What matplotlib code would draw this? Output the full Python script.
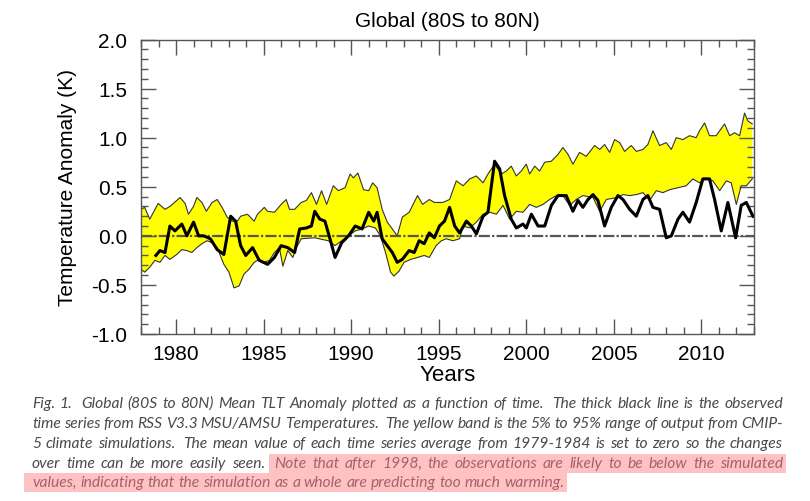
import numpy as np
import matplotlib.pyplot as plt
from matplotlib.patches import Rectangle
from matplotlib.ticker import MultipleLocator

plt.rcParams['font.family'] = ['Liberation Sans', 'DejaVu Sans']

# upper edge of the 5-95% model band
up_years = [1978.0, 1978.21, 1978.5, 1978.98, 1979.37, 1979.65, 1980.04, 1980.23, 1980.52, 1980.71,
            1981.0, 1981.19, 1981.48, 1981.73, 1982.06, 1982.35, 1982.63, 1982.92, 1983.21, 1983.5,
            1983.69, 1984.08, 1984.46, 1984.65, 1985.04, 1985.23, 1985.62, 1986.0, 1986.29, 1986.48,
            1986.77, 1987.15, 1987.44, 1987.73, 1988.02, 1988.31, 1988.6, 1988.98, 1989.27, 1989.65,
            1989.94, 1990.13, 1990.38, 1990.71, 1991.0, 1991.23, 1991.48, 1991.77, 1992.06, 1992.35,
            1992.63, 1992.92, 1993.31, 1993.79, 1994.08, 1994.46, 1994.75, 1995.23, 1995.62, 1996.0,
            1996.39, 1996.77, 1997.15, 1997.53, 1997.81, 1998.19, 1998.57, 1998.86, 1999.14, 1999.43,
            1999.71, 2000.0, 2000.19, 2000.48, 2000.76, 2001.05, 2001.43, 2001.81, 2002.09, 2002.38,
            2002.66, 2003.04, 2003.42, 2003.9, 2004.19, 2004.47, 2004.76, 2005.04, 2005.33, 2005.61,
            2005.99, 2006.28, 2006.66, 2006.94, 2007.23, 2007.61, 2007.99, 2008.28, 2008.56, 2008.94,
            2009.32, 2009.7, 2009.89, 2010.18, 2010.46, 2010.84, 2011.04, 2011.32, 2011.61, 2011.89,
            2012.18, 2012.46, 2012.65, 2012.9]
up_vals = [0.27, 0.29, 0.17, 0.33, 0.27, 0.30, 0.36, 0.39, 0.33, 0.22,
           0.30, 0.39, 0.34, 0.25, 0.34, 0.37, 0.29, 0.19, 0.15, 0.15,
           0.20, 0.22, 0.15, 0.22, 0.29, 0.25, 0.24, 0.32, 0.37, 0.27,
           0.27, 0.34, 0.36, 0.44, 0.32, 0.46, 0.32, 0.51, 0.46, 0.49,
           0.63, 0.59, 0.64, 0.47, 0.46, 0.54, 0.49, 0.27, 0.14, 0.07,
           0.00, 0.19, 0.24, 0.41, 0.32, 0.37, 0.34, 0.34, 0.37, 0.56,
           0.51, 0.58, 0.61, 0.54, 0.63, 0.73, 0.63, 0.66, 0.71, 0.61,
           0.66, 0.73, 0.63, 0.71, 0.66, 0.75, 0.76, 0.83, 0.90, 0.83,
           0.73, 0.85, 0.81, 0.92, 0.88, 0.93, 0.85, 0.98, 0.95, 0.86,
           0.92, 0.86, 0.88, 0.93, 1.07, 0.92, 0.95, 0.88, 1.00, 0.98,
           1.02, 1.00, 1.07, 1.15, 1.02, 1.02, 1.07, 1.14, 1.02, 1.05,
           1.02, 1.25, 1.17, 1.14]

# lower edge of the band
low_years = [1978.0, 1978.21, 1978.5, 1978.79, 1979.08, 1979.37, 1979.65, 1980.04, 1980.33, 1980.62,
             1980.9, 1981.19, 1981.48, 1981.77, 1982.06, 1982.35, 1982.73, 1983.02, 1983.31, 1983.6,
             1983.88, 1984.17, 1984.46, 1984.75, 1985.04, 1985.33, 1985.62, 1985.9, 1986.1, 1986.38,
             1986.67, 1986.87, 1987.15, 1987.92, 1988.69, 1989.08, 1989.46, 1989.85, 1990.23, 1990.62,
             1991.0, 1991.38, 1991.67, 1991.96, 1992.25, 1992.44, 1992.73, 1993.02, 1993.4, 1993.79,
             1994.17, 1994.46, 1994.85, 1995.15, 1995.43, 1995.81, 1996.19, 1996.39, 1996.77, 1997.15,
             1997.53, 1997.91, 1998.29, 1998.67, 1999.05, 1999.43, 1999.81, 2000.19, 2000.57, 2000.95,
             2001.33, 2001.71, 2002.09, 2002.47, 2002.85, 2003.23, 2003.81, 2004.19, 2004.57, 2005.14,
             2005.52, 2005.9, 2006.28, 2006.66, 2007.04, 2007.42, 2007.8, 2008.18, 2008.66, 2009.13,
             2009.51, 2009.89, 2010.27, 2010.65, 2011.04, 2011.42, 2011.7, 2011.99, 2012.27, 2012.56,
             2012.9]
low_vals = [-0.34, -0.37, -0.32, -0.25, -0.27, -0.20, -0.24, -0.19, -0.14, -0.15,
            -0.17, -0.12, -0.08, -0.05, -0.07, -0.12, -0.29, -0.37, -0.53, -0.51,
            -0.39, -0.34, -0.27, -0.24, -0.27, -0.25, -0.17, -0.12, -0.31, -0.15,
            -0.22, -0.12, -0.03, -0.02, -0.05, -0.10, -0.05, 0.00, 0.05, 0.07,
            0.10, 0.08, 0.00, -0.17, -0.37, -0.41, -0.36, -0.27, -0.24, -0.22,
            -0.20, -0.22, -0.10, -0.05, -0.03, -0.05, -0.03, 0.10, 0.08, 0.14,
            0.22, 0.24, 0.22, 0.31, 0.17, 0.25, 0.24, 0.32, 0.29, 0.32,
            0.37, 0.41, 0.41, 0.31, 0.37, 0.41, 0.39, 0.25, 0.37, 0.39,
            0.42, 0.41, 0.42, 0.44, 0.36, 0.46, 0.44, 0.47, 0.49, 0.51,
            0.58, 0.54, 0.59, 0.56, 0.46, 0.56, 0.54, 0.32, 0.51, 0.51,
            0.58]

# RSS observations (thick black line)
obs_years = [1978.85, 1979.08, 1979.37, 1979.65, 1979.94, 1980.33, 1980.62, 1981.0, 1981.29, 1981.58,
             1981.96, 1982.35, 1982.73, 1983.12, 1983.4, 1983.69, 1983.98, 1984.37, 1984.75, 1985.23,
             1985.62, 1986.0, 1986.38, 1986.77, 1987.06, 1987.44, 1987.73, 1987.92, 1988.21, 1988.5,
             1988.79, 1989.08, 1989.46, 1989.85, 1990.23, 1990.62, 1991.0, 1991.29, 1991.48, 1991.77,
             1992.06, 1992.35, 1992.63, 1992.92, 1993.31, 1993.6, 1993.88, 1994.17, 1994.46, 1994.75,
             1995.04, 1995.33, 1995.62, 1995.91, 1996.19, 1996.58, 1996.86, 1997.15, 1997.53, 1997.81,
             1998.19, 1998.48, 1998.76, 1999.14, 1999.43, 1999.81, 2000.0, 2000.29, 2000.67, 2001.05,
             2001.43, 2001.81, 2002.28, 2002.66, 2002.95, 2003.23, 2003.52, 2003.81, 2004.09, 2004.47,
             2004.85, 2005.23, 2005.52, 2005.9, 2006.28, 2006.66, 2006.94, 2007.23, 2007.61, 2007.99,
             2008.28, 2008.66, 2008.94, 2009.32, 2009.7, 2010.08, 2010.46, 2010.75, 2011.13, 2011.51,
             2011.95, 2012.27, 2012.56, 2012.94]
obs_vals = [-0.20, -0.15, -0.17, 0.10, 0.05, 0.12, 0.00, 0.14, 0.00, 0.00,
            -0.03, -0.14, -0.19, 0.20, 0.15, -0.10, -0.20, -0.12, -0.25, -0.29,
            -0.22, -0.10, -0.12, -0.17, 0.07, 0.08, 0.10, 0.25, 0.17, 0.15,
            -0.03, -0.22, -0.07, 0.00, 0.10, 0.07, 0.24, 0.15, 0.24, -0.03,
            -0.10, -0.17, -0.27, -0.24, -0.15, -0.17, -0.05, -0.08, 0.03, -0.02,
            0.10, 0.15, 0.29, 0.10, 0.03, 0.15, 0.10, 0.02, 0.20, 0.24,
            0.76, 0.68, 0.41, 0.17, 0.08, 0.12, 0.08, 0.22, 0.10, 0.10,
            0.31, 0.41, 0.41, 0.25, 0.36, 0.29, 0.37, 0.42, 0.36, 0.10,
            0.29, 0.41, 0.37, 0.27, 0.20, 0.37, 0.41, 0.29, 0.27, -0.02,
            0.00, 0.17, 0.24, 0.14, 0.34, 0.58, 0.58, 0.37, 0.05, 0.34,
            -0.02, 0.31, 0.34, 0.20]

caption = [
    ("Fig. 1.  Global (80S to 80N) Mean TLT Anomaly plotted as a function of time.  The thick black line is the observed", ""),
    ("time series from RSS V3.3 MSU/AMSU Temperatures.  The yellow band is the 5% to 95% range of output from CMIP-", ""),
    ("5 climate simulations.  The mean value of each time series average from 1979-1984 is set to zero so the changes", ""),
    ("over time can be more easily seen. ", "Note that after 1998, the observations are likely to be below the simulated"),
    ("", "values, indicating that the simulation as a whole are predicting too much warming."),
]

W, H = 810, 502
fig = plt.figure(figsize=(W / 100, H / 100), dpi=100)
ax = fig.add_axes([141 / W, 1 - 335 / H, (754 - 141) / W, (335 - 40.5) / H])

grey = '#555555'

# yellow band as one polygon, outlined
band_x = np.concatenate([up_years, low_years[::-1]])
band_y = np.concatenate([up_vals, low_vals[::-1]])
ax.fill(band_x, band_y, color='#ffff00', lw=0, zorder=1)
ax.plot(up_years, up_vals, color='#333333', lw=0.8, zorder=2)
ax.plot(low_years, low_vals, color='#333333', lw=0.8, zorder=2)

ax.axhline(0, color='#555555', lw=1.6, ls=(0, (5, 1, 1, 1)), zorder=3)
ax.plot(obs_years, obs_vals, color='black', lw=2.2, zorder=4, solid_joinstyle='round')

ax.set_xlim(1978, 2013)
ax.set_ylim(-1.0, 2.0)
ax.xaxis.set_major_locator(MultipleLocator(5))
ax.xaxis.set_minor_locator(MultipleLocator(1))
ax.yaxis.set_minor_locator(MultipleLocator(0.1))
ax.set_yticks(np.arange(-1.0, 2.01, 0.5))
ax.set_yticklabels(['%.1f' % v for v in np.arange(-1.0, 2.01, 0.5)])

ax.tick_params(which='both', direction='in', top=True, right=True, color=grey, width=1,
               labelsize=15, labelcolor='black')
ax.tick_params(which='major', length=11)
ax.tick_params(which='minor', length=5)
ax.tick_params(axis='x', pad=7)
ax.tick_params(axis='y', pad=10)
for s in ax.spines.values():
    s.set_color(grey)
    s.set_linewidth(1)

ax.set_title('Global (80S to 80N)', fontsize=15, pad=10)
ax.set_xlabel('Years', fontsize=16, labelpad=1)
ax.set_ylabel('Temperature Anomaly (K)', fontsize=15, labelpad=10)

# caption: justified lines of italic text, last part highlighted
cap_font = dict(family='Lato', style='italic')
text_col = '#4a4a4a'
hi_col = '#a8606a'
hi_bg = '#ffc2c2'
left, right = 32, 783
last_end = 566          # where the short last line stops
baselines = [408, 428, 448, 468, 487]

r = fig.canvas.get_renderer()


def width(s, fs):
    t = fig.text(0, 0, s, fontsize=fs, **cap_font)
    w = t.get_window_extent(renderer=r).width
    t.remove()
    return w


def tokens(s, hi):
    # a double space after a sentence gives that word an extra space
    out = []
    for w in s.split(' '):
        if w:
            out.append([w, hi, 0])
        elif out:
            out[-1][2] += 1
    return out


# size the font from the unjustified last line
fs = 10.5
fs = fs * (last_end - left) / width(caption[-1][1], fs)

space = width('a a', fs) - width('aa', fs)

for i, (a, b) in enumerate(caption):
    words = tokens(a, False) + tokens(b, True)
    ws = [width(w, fs) for w, _, _ in words]
    extra = sum(e for _, _, e in words[:-1]) * space
    last = i == len(caption) - 1
    gap = space if last else (right - left - sum(ws) - extra) / (len(words) - 1)
    y = baselines[i]
    x = left
    xs = []
    for (w, hi, e), wd in zip(words, ws):
        xs.append(x)
        x += wd + gap + e * space
    hi_idx = [k for k, (_, hi, _) in enumerate(words) if hi]
    if hi_idx:
        x0 = xs[hi_idx[0]] - 5 if hi_idx[0] > 0 else left - 8
        x1 = right + 3 if not last else xs[hi_idx[-1]] + ws[hi_idx[-1]] + 3
        fig.patches.append(Rectangle((x0 / W, 1 - (y + 6) / H), (x1 - x0) / W, 19 / H,
                                     transform=fig.transFigure, color=hi_bg, lw=0, zorder=0))
    for (w, hi, _), xx in zip(words, xs):
        fig.text(xx / W, 1 - y / H, w, fontsize=fs, color=hi_col if hi else text_col,
                 ha='left', va='baseline', **cap_font)

fig.savefig('out.png', dpi=100)
